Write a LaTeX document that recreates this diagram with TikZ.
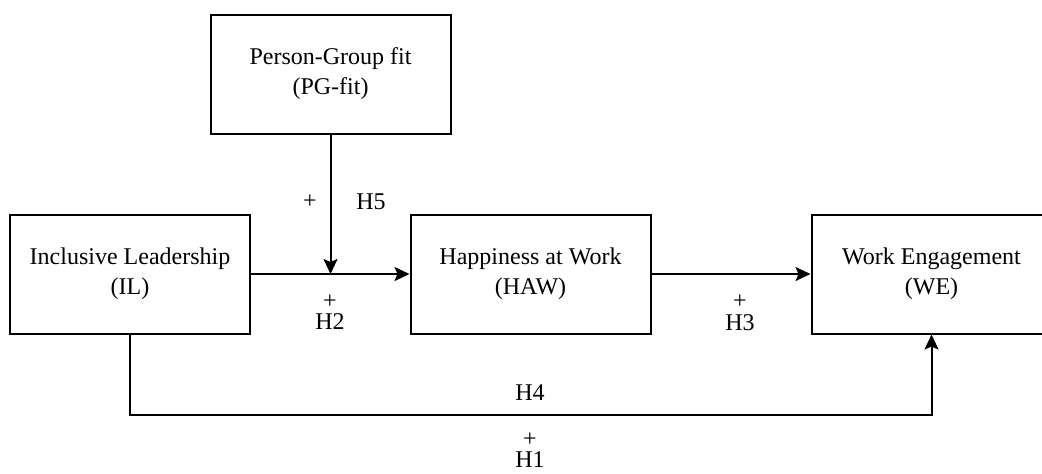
\documentclass[tikz,border=0pt]{standalone}
\usepackage{fontspec}
\setmainfont{Liberation Serif}
\usepackage{tikz}
\usetikzlibrary{arrows.meta,positioning,calc}

\begin{document}
\begin{tikzpicture}[
    x=0.5pt, y=-0.5pt,
    >={Stealth[length=7.5pt,width=7pt,inset=1.5pt]},
    every node/.style={font=\fontsize{12}{15}\selectfont},
    box/.style={draw,line width=1pt,align=center,minimum width=120pt,minimum height=59.5pt,inner sep=0pt},
    lbl/.style={inner sep=0pt},
    link/.style={->,line width=1pt}
]
\useasboundingbox (0,0) rectangle (1042,473);

\node[box] (PG) at (330.5,74) {Person-Group fit\\(PG-fit)};
\node[box] (IL) at (130,274) {Inclusive Leadership\\(IL)};
\node[box] (HAW) at (530.5,274) {Happiness at Work\\(HAW)};
\node[box] (WE) at (931.5,274) {Work Engagement\\(WE)};

% paths
\coordinate (mod) at (PG.south |- IL.east);
\coordinate (low) at ($(IL.south)+(0,80)$);
\draw[link] (IL.east) -- (HAW.west);
\draw[link] (PG.south) -- (mod);
\draw[link] (HAW.east) -- (WE.west);
\draw[link] (IL.south) -- (low) -| (WE.south);

% hypotheses
\node[lbl] (plus5) at (310,202) {+};
\node[lbl] (h5) at (371,202) {H5};
\node[lbl] (plus2) at (330,302) {+};
\node[lbl] (h2) at (330,322) {H2};
\node[lbl] (plus3) at (740,302) {+};
\node[lbl] (h3) at (740,323) {H3};
\node[lbl] (h4) at (530,393) {H4};
\node[lbl] (plus1) at (530,440) {+};
\node[lbl] (h1) at (530,460) {H1};
\end{tikzpicture}
\end{document}
